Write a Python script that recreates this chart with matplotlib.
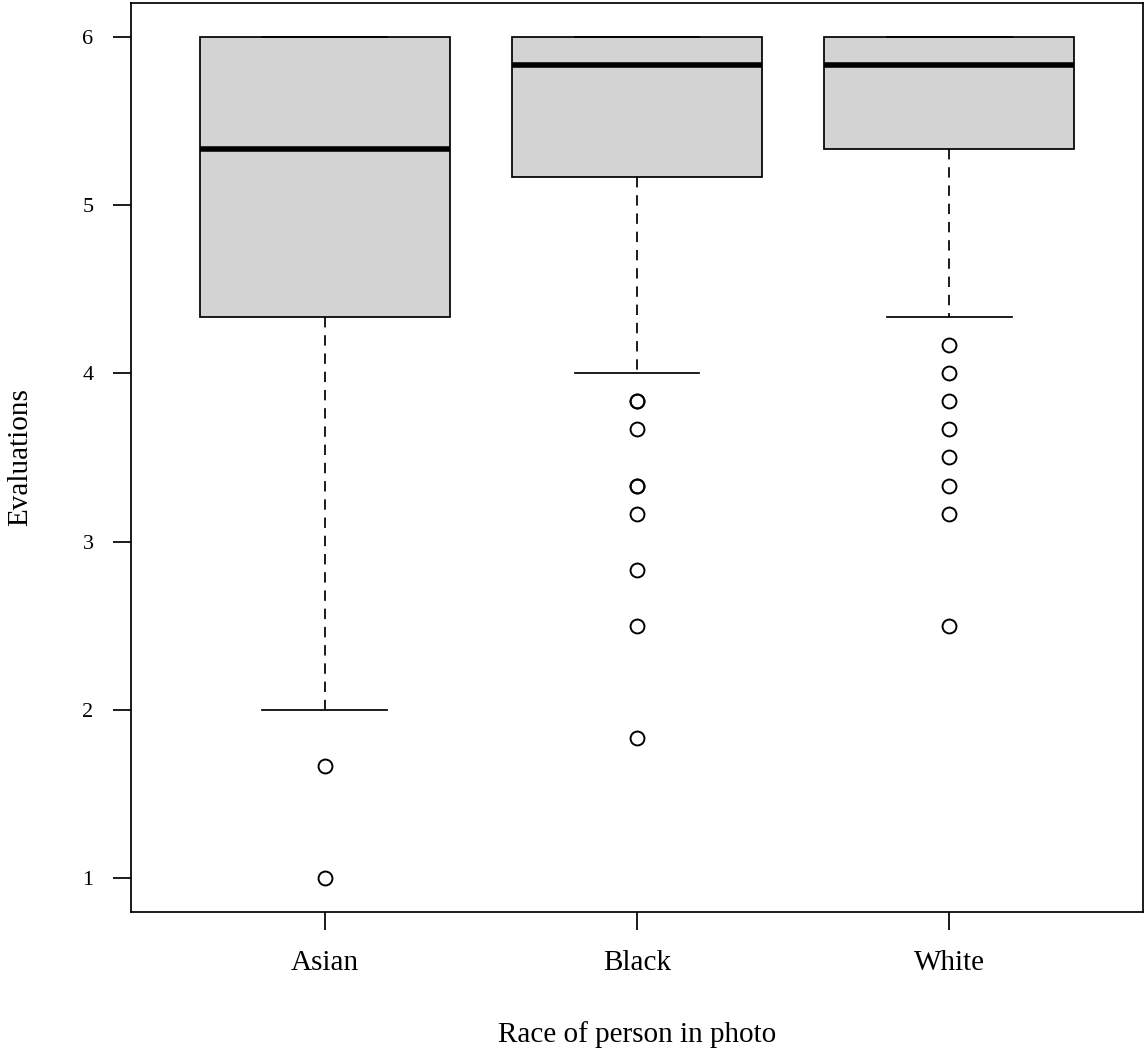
import matplotlib
matplotlib.use("Agg")
import matplotlib.pyplot as plt

# Box statistics (R-style boxplot)
groups = ["Asian", "Black", "White"]
q1 = [4.333, 5.167, 5.333]
medians = [5.333, 5.833, 5.833]
q3 = [6.0, 6.0, 6.0]
whisker_lo = [2.0, 4.0, 4.333]
whisker_hi = [6.0, 6.0, 6.0]
outliers = [
    [1.667, 1.0],
    [3.833, 3.833, 3.667, 3.333, 3.333, 3.167, 2.833, 2.5, 1.833],
    [4.167, 4.0, 3.833, 3.667, 3.5, 3.333, 3.167, 2.5],
]
y_ticks = [1, 2, 3, 4, 5, 6]

plt.rcParams["font.family"] = ["Liberation Serif", "DejaVu Serif"]

stats = []
for i, g in enumerate(groups):
    stats.append({
        "label": g, "q1": q1[i], "med": medians[i], "q3": q3[i],
        "whislo": whisker_lo[i], "whishi": whisker_hi[i], "fliers": outliers[i],
    })

fig = plt.figure(figsize=(11.48, 10.53), dpi=100)
ax = fig.add_axes([0.1141, 0.1339, 0.8815, 0.8633])

lw = 1.25
ax.bxp(
    stats, positions=[1, 2, 3], widths=0.8, patch_artist=True,
    boxprops=dict(facecolor="#d3d3d3", edgecolor="black", linewidth=lw),
    medianprops=dict(color="black", linewidth=4.0, solid_capstyle="butt"),
    whiskerprops=dict(color="black", linewidth=lw, linestyle=(0, (6, 4.5))),
    capprops=dict(color="black", linewidth=lw),
    capwidths=0.4,
    flierprops=dict(marker="o", markerfacecolor="none", markeredgecolor="black",
                    markersize=10, markeredgewidth=1.4),
)

ax.set_xlim(0.38, 3.62)
ax.set_ylim(0.8, 6.2)
ax.set_yticks(y_ticks)
ax.set_xticks([1, 2, 3])
ax.set_xticklabels(groups, fontsize=21)
ax.tick_params(axis="y", labelsize=16, length=13, width=lw, pad=14)
ax.tick_params(axis="x", length=13, width=lw, pad=14)
for s in ax.spines.values():
    s.set_linewidth(lw)

fig.text(0.5 * (0.1141 + 0.9956), 1 - 1035 / 1053, "Race of person in photo",
         fontsize=21, ha="center", va="center")
fig.text(20 / 1148, 1 - 457 / 1053, "Evaluations", fontsize=21,
         rotation=90, ha="center", va="center")

fig.savefig("out.png", dpi=100)
